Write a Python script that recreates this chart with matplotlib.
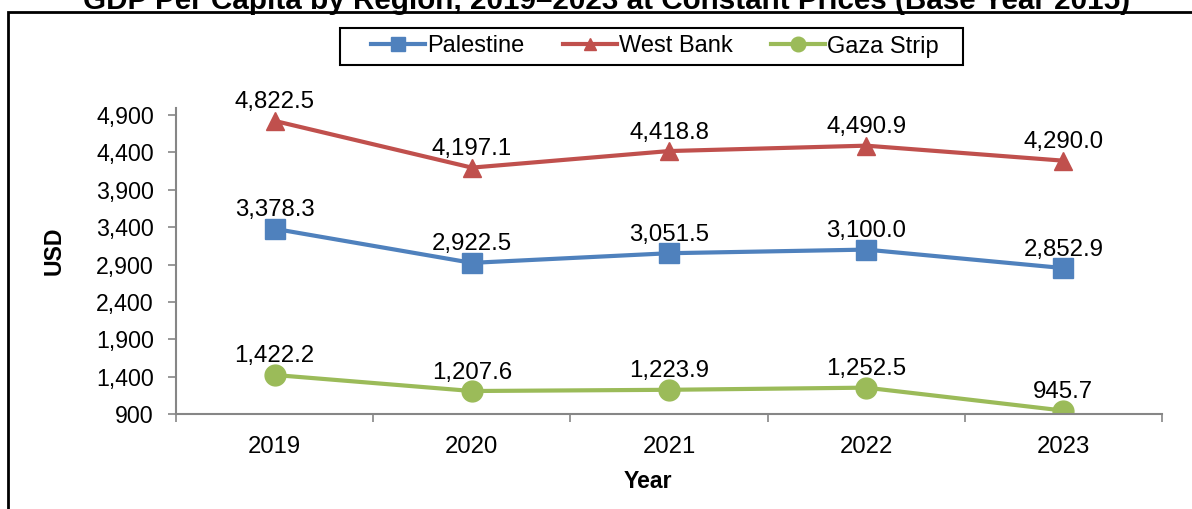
import matplotlib
matplotlib.use("Agg")
import matplotlib.pyplot as plt
from matplotlib.patches import Rectangle

years = ["2019", "2020", "2021", "2022", "2023"]
palestine = [3378.3, 2922.5, 3051.5, 3100.0, 2852.9]
west_bank = [4822.5, 4197.1, 4418.8, 4490.9, 4290.0]
gaza = [1422.2, 1207.6, 1223.9, 1252.5, 945.7]
yticks = [900, 1400, 1900, 2400, 2900, 3400, 3900, 4400, 4900]

plt.rcParams['font.family'] = ['Liberation Sans', 'DejaVu Sans']

fig = plt.figure(figsize=(11.92, 5.09), dpi=100)
ax = fig.add_axes([176/1192, 1-414/509, (1162-176)/1192, (414-108)/509])

x = list(range(len(years)))
series = [
    ("Palestine", palestine, "#4F81BD", "s", 14),
    ("West Bank", west_bank, "#C0504D", "^", 13),
    ("Gaza Strip", gaza, "#9BBB59", "o", 15),
]
for name, vals, col, mk, ms in series:
    ax.plot(x, vals, color=col, lw=3, marker=mk, markersize=ms, label=name)
    for xi, v in zip(x, vals):
        ax.annotate(f"{v:,.1f}", (xi, v), xytext=(0, 9), textcoords="offset points",
                    ha="center", va="baseline", fontsize=17.3)

ax.set_xlim(-0.5, 4.5)
ax.set_ylim(900, 4995)
ax.set_yticks(yticks)
ax.set_yticklabels([f"{t:,}" for t in yticks], fontsize=16.7)
ax.set_xticks(x)
ax.set_xticklabels(years, fontsize=17.2)
ax.set_xticks([i - 0.5 for i in range(len(years) + 1)], minor=True)
ax.tick_params(axis='x', which='major', length=0, pad=16)
ax.tick_params(axis='x', which='minor', length=6, color="#868686", width=1.2)
ax.tick_params(axis='y', length=6, color="#868686", width=1.2, pad=10)
for s in ["top", "right"]:
    ax.spines[s].set_visible(False)
for s in ["left", "bottom"]:
    ax.spines[s].set_color("#868686")
    ax.spines[s].set_linewidth(1.5)

ax.set_xlabel("Year", fontsize=16.6, fontweight="bold")
ax.xaxis.set_label_coords((648 - 176) / 986, -(470 - 414) / 306)
ax.set_ylabel("USD", fontsize=16.6, fontweight="bold")
ax.yaxis.set_label_coords((66 - 176) / 986, (414 - 251) / 306)

leg = fig.legend(loc="center", bbox_to_anchor=(655/1192, 1-46.5/509), ncol=3, fontsize=17,
                 frameon=False, handlelength=2.3,
                 markerscale=0.7, columnspacing=1.6, handletextpad=0.1,
                 borderpad=0.3)
fig.patches.append(Rectangle((340/1192, 1-65/509), (963-340)/1192, 37/509,
                             transform=fig.transFigure, fill=False,
                             edgecolor="black", linewidth=1.5))

fig.text(607/1192, 1-9/509, "GDP Per Capita by Region, 2019–2023 at Constant Prices (Base Year 2015)",
         ha="center", va="baseline", fontsize=21.3, fontweight="bold")

fig.patches.append(Rectangle((8/1192, -0.1), 1.2, 1.1 - 12/509, transform=fig.transFigure,
                             fill=False, edgecolor="black", linewidth=2))

fig.savefig("out.png", dpi=100)
